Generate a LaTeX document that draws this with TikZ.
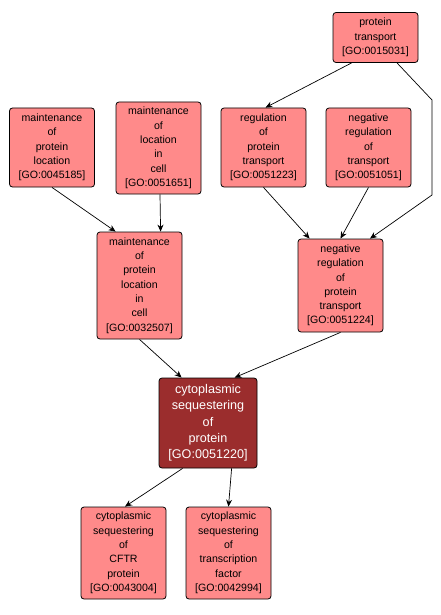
\documentclass[tikz,border=0pt]{standalone}
\usepackage{fontspec}
\setmainfont{Liberation Sans}
\usepackage{xcolor}
\usetikzlibrary{arrows.meta}

\definecolor{golight}{RGB}{255,138,138}
\definecolor{godark}{RGB}{155,45,45}

\tikzset{
  goterm/.style={draw=black, line width=0.8pt, fill=golight, rounded corners=3pt,
    align=center, inner sep=0pt, minimum width=85pt,
    font=\fontsize{10.6}{14.3}\selectfont},
  gosel/.style={goterm, fill=godark, text=white, minimum width=98pt,
    font=\fontsize{12.6}{16.3}\selectfont},
  isa/.style={-{Stealth[length=7pt,width=6pt]}, line width=0.7pt}
}

\begin{document}
\begin{tikzpicture}[x=1pt, y=-1pt]
        \useasboundingbox (0,0) rectangle (441,615);

        % top row
        \node (pt) [goterm, minimum height=50pt] at (375.5,37.5) {protein\\transport\\{[GO:0015031]}};
        \node (mpl) [goterm, minimum height=79pt] at (52,147.5) {maintenance\\of\\protein\\location\\{[GO:0045185]}};
        \node (mlc) [goterm, minimum height=92pt] at (158.5,148) {maintenance\\of\\location\\in\\cell\\{[GO:0051651]}};
        \node (rpt) [goterm, minimum height=79pt] at (263.5,147.5) {regulation\\of\\protein\\transport\\{[GO:0051223]}};
        \node (nrt) [goterm, minimum height=79pt] at (368.5,147.5) {negative\\regulation\\of\\transport\\{[GO:0051051]}};

        % middle
        \node (mplc) [goterm, minimum height=107pt] at (139.5,285.5) {maintenance\\of\\protein\\location\\in\\cell\\{[GO:0032507]}};
        \node (nrpt) [goterm, minimum height=93pt] at (340.5,285.5) {negative\\regulation\\of\\protein\\transport\\{[GO:0051224]}};

        \node (csp) [gosel, minimum height=90pt] at (208,423) {cytoplasmic\\sequestering\\of\\protein\\{[GO:0051220]}};

        % bottom
        \node (cftr) [goterm, minimum height=92pt] at (123.5,553) {cytoplasmic\\sequestering\\of\\CFTR\\protein\\{[GO:0043004]}};
        \node (ctf) [goterm, minimum height=92pt] at (228.5,553) {cytoplasmic\\sequestering\\of\\transcription\\factor\\{[GO:0042994]}};

        \coordinate (bend1) at (432,100);
        \coordinate (bend2) at (432,195);

        \draw [isa] ([xshift=19pt]pt.south west) -- ([xshift=2pt]rpt.north);
        \draw [isa] ([xshift=21.5pt]pt.south) -- (bend1) -- (bend2) -- ([xshift=29.5pt]nrpt.north);
        \draw [isa] (mpl.south) -- ([xshift=19pt]mplc.north west);
        \draw [isa] ([xshift=1.5pt]mlc.south) -- ([xshift=64pt]mplc.north west);
        \draw [isa] (rpt.south) -- ([xshift=12pt]nrpt.north west);
        \draw [isa] (nrt.south) -- (nrpt.north);
        \draw [isa] (mplc.south) -- ([xshift=23pt]csp.north west);
        \draw [isa] (nrpt.south) -- ([xshift=76pt]csp.north west);
        \draw [isa] ([xshift=24pt]csp.south west) -- ([xshift=1.5pt]cftr.north);
        \draw [isa] ([xshift=73pt]csp.south west) -- (ctf.north);
    \end{tikzpicture}
\end{document}
